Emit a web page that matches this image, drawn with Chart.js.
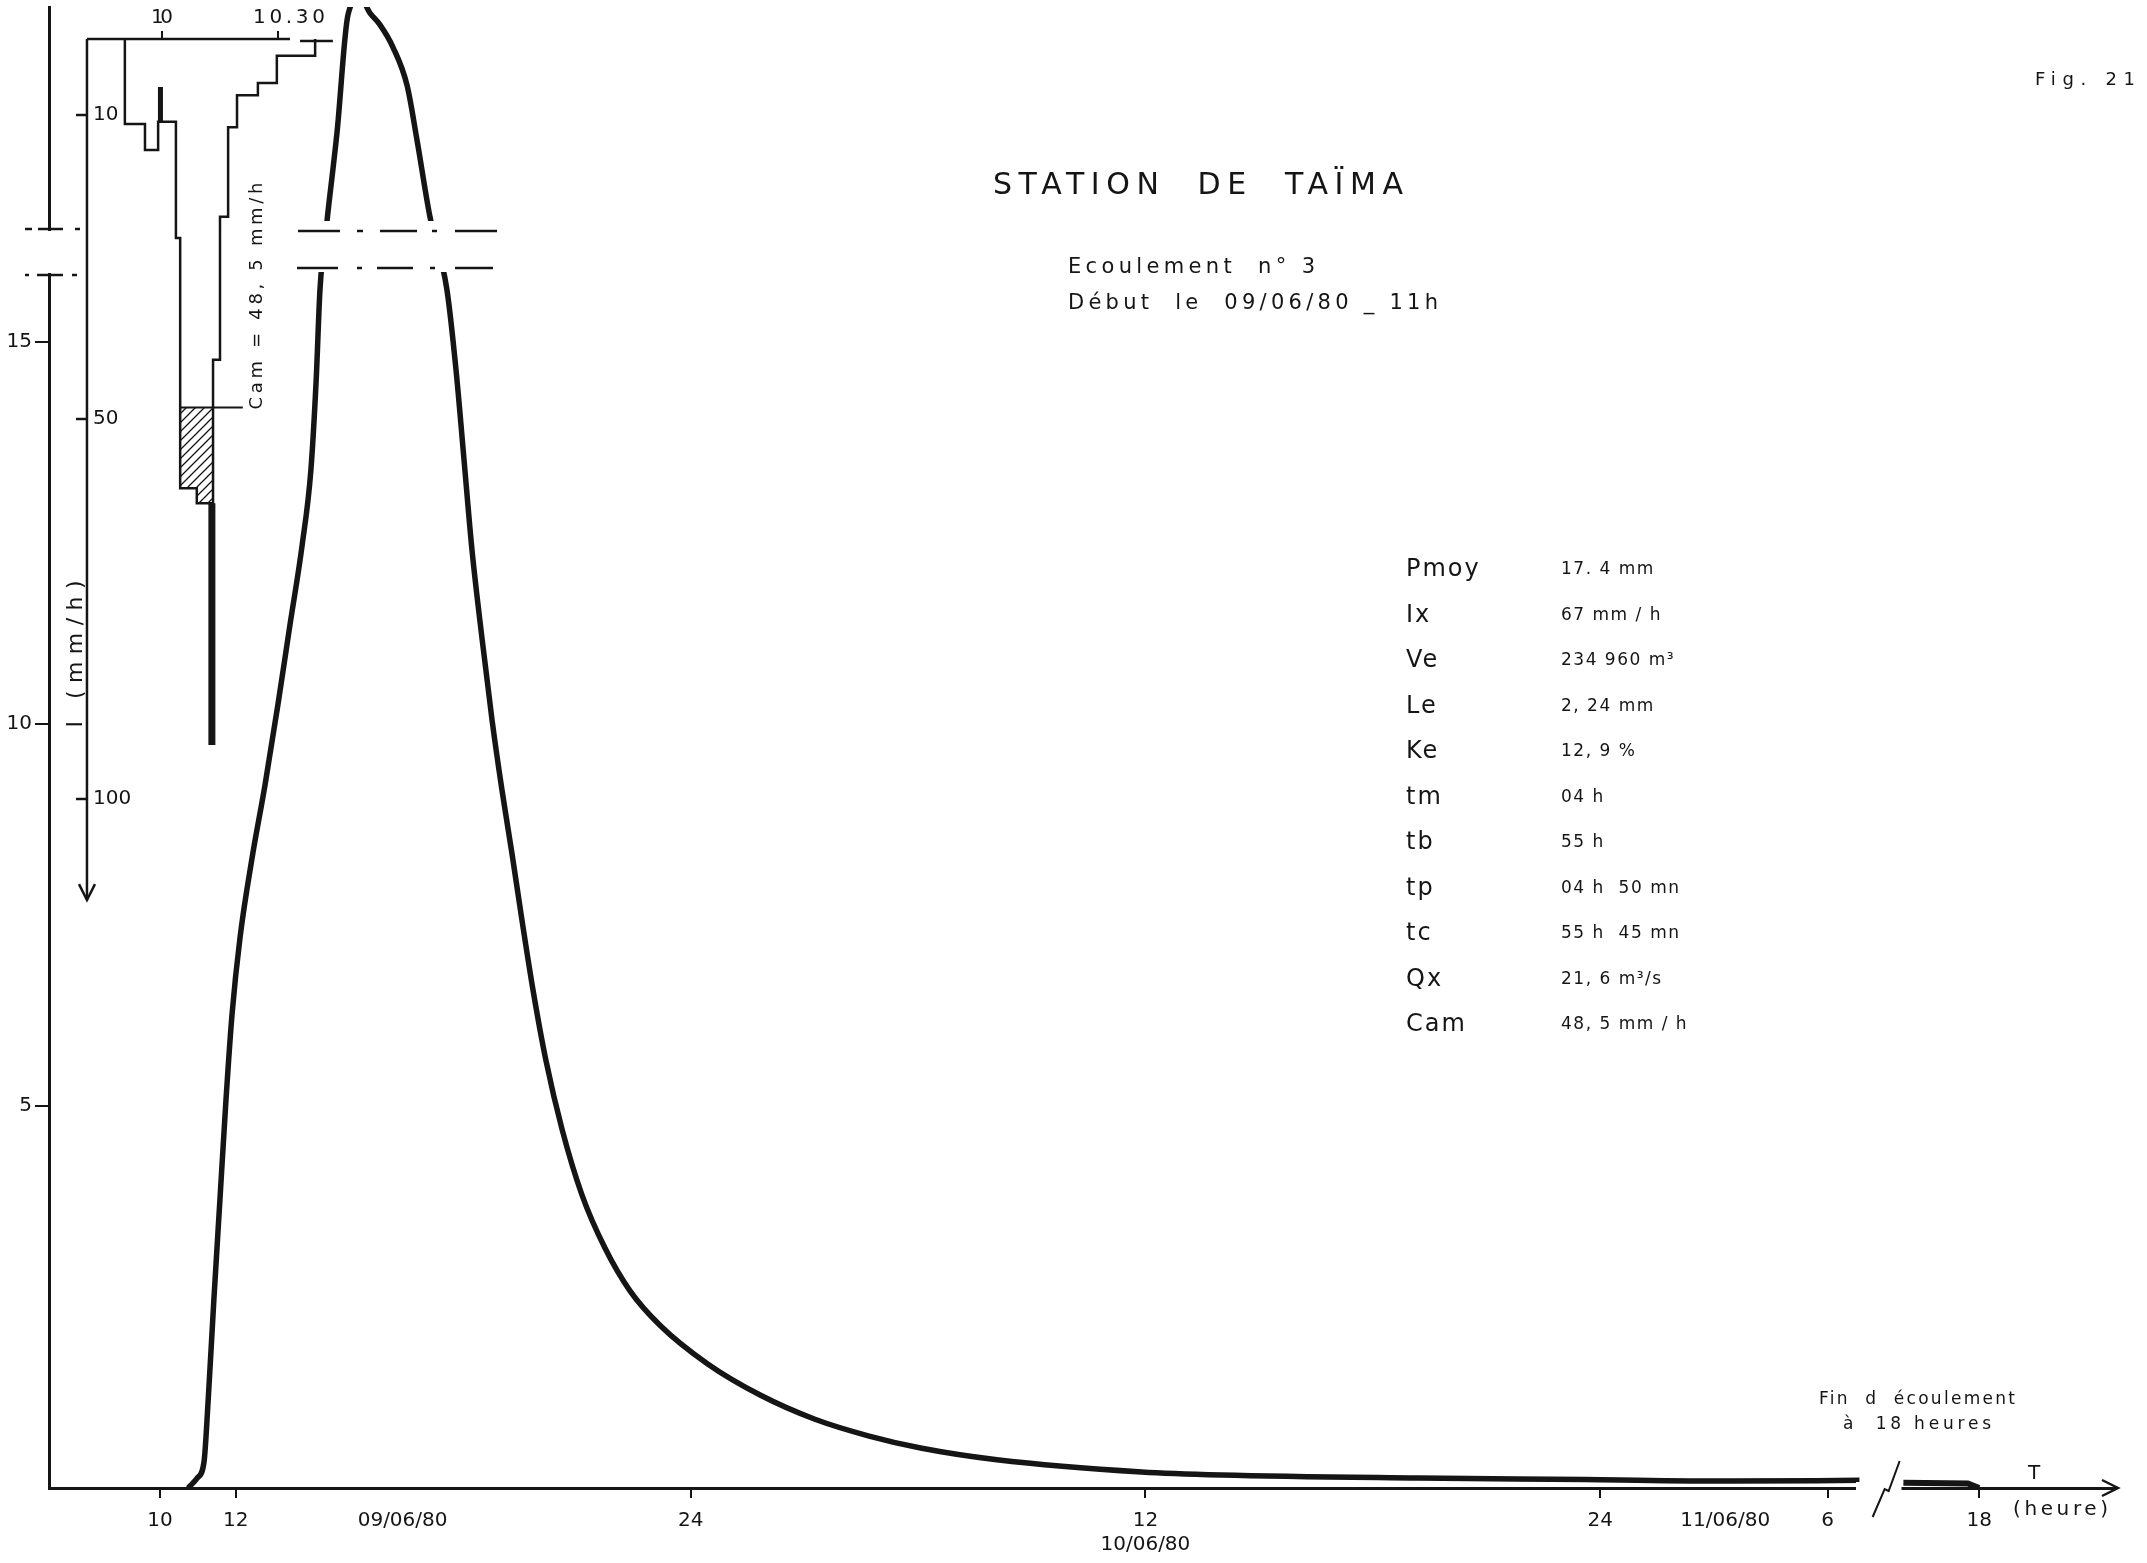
<!DOCTYPE html>
<html>
<head>
<meta charset="utf-8">
<title>Station de Taïma - Ecoulement n° 3</title>
<script src="https://cdn.jsdelivr.net/npm/chart.js@4.4.1/dist/chart.umd.min.js"></script>
<style>
  html, body { margin: 0; padding: 0; background: #fff; }
</style>
</head>
<body>
<canvas id="hydro" width="2147" height="1563"></canvas>
<script>
//--- Data ---//
// hydrogramme : heures comptées depuis le 09/06/80 0h, débit en m3/s
const flowHours = [
  10.74, 10.98, 11.16, 11.27, 11.42, 11.58, 11.74, 11.90, 12.11, 12.43,
  12.77, 13.11, 13.43, 13.75, 13.98, 14.12, 14.22, 14.41, 14.67, 14.96,
  15.28, 15.54, 15.80, 16.15, 16.52, 16.78, 17.12, 17.57, 17.81, 18.02,
  18.23, 18.50, 18.76, 19.02, 19.29, 19.55, 19.84, 20.18, 20.61, 21.13,
  21.74, 22.40, 23.19, 24.46, 25.86, 27.28, 28.71, 30.10, 32.08, 35.90,
  38.00, 43.20, 47.60, 51.40, 54.84
];
const flowValues = [
  0, 0.13, 0.34, 1.15, 2.46, 3.77, 5.08, 6.20, 7.20, 8.25,
  9.20, 10.25, 11.30, 12.34, 13.32, 14.50, 15.68, 16.60, 17.74, 19.28,
  19.50, 19.30, 19.15, 18.85, 18.35, 17.64, 16.64, 15.68, 14.63, 13.46,
  12.28, 11.10, 10.05, 9.14, 8.29, 7.43, 6.52, 5.60, 4.69, 3.84,
  3.14, 2.58, 2.13, 1.62, 1.21, 0.90, 0.68, 0.52, 0.37, 0.21,
  0.17, 0.13, 0.11, 0.09, 0.10
];
// fin de l'écoulement, après la coupure de l'axe des temps
const tailHours = [64.0, 65.7, 66.0];
const tailValues = [0.07, 0.06, 0];
const BREAK_SHIFT = 8; // heures masquées par la coupure

// hyetogramme : minutes depuis 0h, intensité en mm/h (paliers)
const rainMinutes = [590.4, 590.4, 595.6, 599.0, 603.6, 604.7, 609.0, 613.2, 615.0, 617.1, 619.4, 624.8, 629.7, 639.6];
const rainIntensity = [0, 11.2, 14.6, 10.9, 26.2, 59.1, 61.1, 42.2, 23.4, 11.6, 7.4, 5.8, 2.2, 0];
const CAM = 48.5;
const camMinutes = [604.7, 620.9];
const excessMinutes = [604.7, 609.0, 613.2];
const excessIntensity = [59.1, 61.1, 61.1];
const spikeMinutes = [612.9, 612.9];
const spikeIntensity = [61.1, 92.9];
const markMinutes = [599.6, 599.6];
const markIntensity = [6.3, 10.9];

// axes
const qTicks = [5, 10, 15];
const hourTicks = [10, 12, 24, 36, 48, 54, 66];
const hourLabels = ['10', '12', '24', ['12', '10/06/80'], '24', '6', '18'];
const dateTicks = [16.4, 51.3];
const dateLabels = ['09/06/80', '11/06/80'];
const rainTimeTicks = [600, 630];
const rainTimeLabels = ['10', '10.30'];
const intensityTicks = [10, 50, 100];

const paramNames = ['Pmoy', 'Ix', 'Ve', 'Le', 'Ke', 'tm', 'tb', 'tp', 'tc', 'Qx', 'Cam'];
const paramValues = ['17. 4 mm', '67 mm / h', '234 960 m³', '2, 24 mm', '12, 9 %', '04 h', '55 h',
  '04 h  50 mn', '55 h  45 mn', '21, 6 m³/s', '48, 5 mm / h'];
//--------------//

const ink = '#151515';
const FONT = "'DejaVu Sans', 'Liberation Sans', sans-serif";
const canvas = document.getElementById('hydro');

//--- Helpers ---//
const toPoints = (xs, ys) => xs.map((x, i) => ({ x: x, y: ys[i] }));
const displayHour = h => (h > 55 ? h - BREAK_SHIFT : h);

function hatchPattern() {
  const c = document.createElement('canvas');
  c.width = 9; c.height = 9;
  const g = c.getContext('2d');
  g.strokeStyle = ink;
  g.lineWidth = 1.3;
  g.beginPath();
  g.moveTo(0, 9); g.lineTo(9, 0);
  g.moveTo(-2, 2); g.lineTo(2, -2);
  g.moveTo(7, 11); g.lineTo(11, 7);
  g.stroke();
  return g.createPattern(c, 'repeat');
}

// draws text starting at x, stretched to a width with letter spacing
function spaced(ctx, text, x, y, size, width, spacing) {
  ctx.font = size + 'px ' + FONT;
  ctx.letterSpacing = '0px';
  let sp = spacing || 0;
  if (width) {
    sp = (width - ctx.measureText(text).width) / Math.max(1, text.length - 1);
  }
  ctx.letterSpacing = sp + 'px';
  ctx.textAlign = 'left';
  ctx.textBaseline = 'middle';
  ctx.fillText(text, x, y);
  ctx.letterSpacing = '0px';
}
function spacedVertical(ctx, text, cx, cy, size, width) {
  ctx.save();
  ctx.translate(cx, cy);
  ctx.rotate(-Math.PI / 2);
  spaced(ctx, text, -width / 2, 0, size, width);
  ctx.restore();
}
function line(ctx, pts, w) {
  ctx.lineWidth = w;
  ctx.beginPath();
  ctx.moveTo(pts[0][0], pts[0][1]);
  for (let i = 1; i < pts.length; i++) ctx.lineTo(pts[i][0], pts[i][1]);
  ctx.stroke();
}
//--------------//

//--- Plugins ---//
const paper = {
  id: 'paper',
  beforeDraw(chart) {
    const ctx = chart.ctx;
    ctx.save();
    ctx.fillStyle = '#fff';
    ctx.fillRect(0, 0, chart.width, chart.height);
    ctx.restore();
  }
};

const breaks = {
  id: 'breaks',
  afterDatasetsDraw(chart) {
    const ctx = chart.ctx;
    const xs = chart.scales.x, ys = chart.scales.y;
    const x2 = chart.scales.x2, y2 = chart.scales.y2;
    const base = ys.getPixelForValue(0);
    ctx.save();
    ctx.fillStyle = '#fff';
    ctx.strokeStyle = ink;

    // coupure de l'axe des débits
    ctx.fillRect(40, 231, 20, 42);
    ctx.fillRect(288, 221, 220, 51);
    ctx.lineCap = 'butt';
    [[229, [[25, 32], [38, 63], [75, 80]]], [275, [[25, 29], [37, 63], [72, 77]]],
     [231, [[298, 340], [357, 363], [380, 417], [432, 437], [455, 497]]],
     [268, [[297, 338], [357, 362], [377, 413], [430, 435], [455, 493]]]]
      .forEach(([y, segs]) => segs.forEach(s => line(ctx, [[s[0], y], [s[1], y]], 2.5)));

    // coupure de l'axe des temps
    const gx0 = xs.getPixelForValue(54.75), gx1 = xs.getPixelForValue(55.95);
    ctx.fillRect(gx0, base - 6, gx1 - gx0, 14);
    const bx = xs.getPixelForValue(55.4);
    line(ctx, [[bx - 8, base + 29], [bx + 4, base + 1], [bx + 8, base + 3], [bx + 19, base - 27]], 2);
    // flèche
    const ax = chart.chartArea.right;
    line(ctx, [[ax - 14, base - 8], [ax + 2, base], [ax - 14, base + 8]], 2.5);

    // axes du hyetogramme
    const top = y2.getPixelForValue(0);
    const ix = x2.getPixelForValue(580.6);
    line(ctx, [[ix, top], [x2.getPixelForValue(633.1), top]], 2.5);
    line(ctx, [[x2.getPixelForValue(635.7), top + 2], [x2.getPixelForValue(644.2), top + 2]], 2.5);
    rainTimeTicks.forEach(t => {
      const px = x2.getPixelForValue(t);
      line(ctx, [[px, top], [px, top - 8]], 2);
    });
    const arrowY = y2.getPixelForValue(113.3);
    line(ctx, [[ix, top], [ix, arrowY]], 2.5);
    line(ctx, [[ix - 8, arrowY - 16], [ix, arrowY], [ix + 8, arrowY - 16]], 2.5);
    intensityTicks.forEach(v => {
      const py = y2.getPixelForValue(v);
      line(ctx, [[ix - 11, py], [ix, py]], 2.5);
    });
    ctx.restore();
  }
};

const notes = {
  id: 'notes',
  afterDraw(chart) {
    const ctx = chart.ctx;
    const x2 = chart.scales.x2, y2 = chart.scales.y2;
    const base = chart.scales.y.getPixelForValue(0);
    ctx.save();
    ctx.fillStyle = ink;

    spaced(ctx, 'Fig. 21', 2035, 80, 18, 100);
    spaced(ctx, 'STATION  DE  TAÏMA', 993, 186, 30, 410);
    spaced(ctx, 'Ecoulement  n° 3', 1068, 268, 21, 247);
    spaced(ctx, 'Début  le  09/06/80 _ 11h', 1068, 304, 21, 370);

    paramNames.forEach((name, i) => {
      const y = 570 + i * 45.5;
      spaced(ctx, name, 1406, y, 24, 0, 2);
      spaced(ctx, paramValues[i], 1561, y, 17, 0, 1.5);
    });

    spaced(ctx, 'Fin  d  écoulement', 1819, 1400, 17, 196);
    spaced(ctx, 'à  18 heures', 1843, 1425, 17, 148);
    spaced(ctx, 'T', 2028, base - 14, 20, 0);
    spaced(ctx, '(heure)', 2013, base + 22, 20, 95);

    // hyetogramme
    const top = y2.getPixelForValue(0);
    const ix = x2.getPixelForValue(580.6);
    rainTimeTicks.forEach((t, i) => {
      const px = x2.getPixelForValue(t);
      const w = i === 0 ? 22 : 72;
      spaced(ctx, rainTimeLabels[i], px - (i === 0 ? 11 : 25), top - 21, 20, w);
    });
    intensityTicks.forEach(v => {
      spaced(ctx, String(v), ix + 6, y2.getPixelForValue(v), 20, 0, 0);
    });
    spacedVertical(ctx, 'I (mm/h)', ix - 11, 654, 22, 147);
    spacedVertical(ctx, 'Cam = 48, 5 mm/h', x2.getPixelForValue(624.6), 296, 18, 227);
    ctx.restore();
  }
};
//--------------//

//--- Chart ---//
const hatch = hatchPattern();
const tickLabelFor = new Map();
hourTicks.forEach((h, i) => tickLabelFor.set(displayHour(h), hourLabels[i]));
dateTicks.forEach((d, i) => tickLabelFor.set(d, dateLabels[i]));
const dateSet = new Set(dateTicks);

const rainLine = { xAxisID: 'x2', yAxisID: 'y2', borderColor: ink, pointRadius: 0, fill: false };

new Chart(canvas, {
  type: 'line',
  data: {
    datasets: [
      Object.assign({}, rainLine, {
        label: 'Excès', data: toPoints(excessMinutes, excessIntensity),
        stepped: true, fill: { value: CAM }, backgroundColor: hatch, borderWidth: 0
      }),
      Object.assign({}, rainLine, { label: 'Cam', data: toPoints(camMinutes, [CAM, CAM]), borderWidth: 2 }),
      Object.assign({}, rainLine, { label: 'Pluie', data: toPoints(rainMinutes, rainIntensity), stepped: true, borderWidth: 2.5 }),
      Object.assign({}, rainLine, { label: 'Pointe', data: toPoints(spikeMinutes, spikeIntensity), borderWidth: 7 }),
      Object.assign({}, rainLine, {
        label: 'Pointe (pointillé)', data: toPoints(spikeMinutes, spikeIntensity),
        borderColor: '#fff', borderWidth: 3, borderDash: [3, 3]
      }),
      Object.assign({}, rainLine, { label: 'Trait', data: toPoints(markMinutes, markIntensity), borderWidth: 5 }),
      {
        label: 'Débit', data: toPoints(flowHours, flowValues),
        xAxisID: 'x', yAxisID: 'y', borderColor: ink, borderWidth: 5.5,
        cubicInterpolationMode: 'monotone', pointRadius: 0, fill: false
      },
      {
        label: 'Débit (fin)', data: toPoints(tailHours.map(displayHour), tailValues),
        xAxisID: 'x', yAxisID: 'y', borderColor: ink, borderWidth: 6, pointRadius: 0, fill: false
      }
    ]
  },
  options: {
    responsive: false,
    animation: false,
    events: [],
    layout: { padding: { top: 7, right: 31, bottom: 0, left: 0 } },
    plugins: { legend: { display: false }, tooltip: { enabled: false } },
    scales: {
      x: {
        type: 'linear', position: 'bottom', min: 7.07, max: 61.61,
        afterFit: s => { s.height = 75; s.paddingLeft = 0; s.paddingRight = 0; },
        afterBuildTicks: s => {
          s.ticks = hourTicks.map(displayHour).concat(dateTicks).map(v => ({ value: v }));
        },
        border: { display: true, color: ink, width: 3 },
        grid: {
          drawOnChartArea: false, drawTicks: true, tickLength: 10, lineWidth: 2,
          color: c => (c.tick && dateSet.has(c.tick.value) ? 'rgba(0,0,0,0)' : ink)
        },
        ticks: {
          autoSkip: false, maxRotation: 0, minRotation: 0, padding: 11,
          color: ink, font: { family: FONT, size: 20 },
          callback: v => tickLabelFor.get(v) || ''
        }
      },
      y: {
        type: 'linear', position: 'left', min: 0, max: 19.38,
        afterFit: s => { s.width = 49; s.paddingTop = 0; s.paddingBottom = 0; },
        afterBuildTicks: s => { s.ticks = qTicks.map(v => ({ value: v })); },
        border: { display: true, color: ink, width: 3 },
        grid: { drawOnChartArea: false, drawTicks: true, tickLength: 14, lineWidth: 2, color: ink },
        ticks: { padding: 3, color: ink, font: { family: FONT, size: 20 }, callback: v => String(v) }
      },
      x2: { type: 'linear', display: false, min: 570.78, max: 1105.3 },
      y2: { type: 'linear', display: false, reverse: true, min: -4.21, max: 190.66 }
    }
  },
  plugins: [paper, breaks, notes]
});
//------------------//
</script>
</body>
</html>
